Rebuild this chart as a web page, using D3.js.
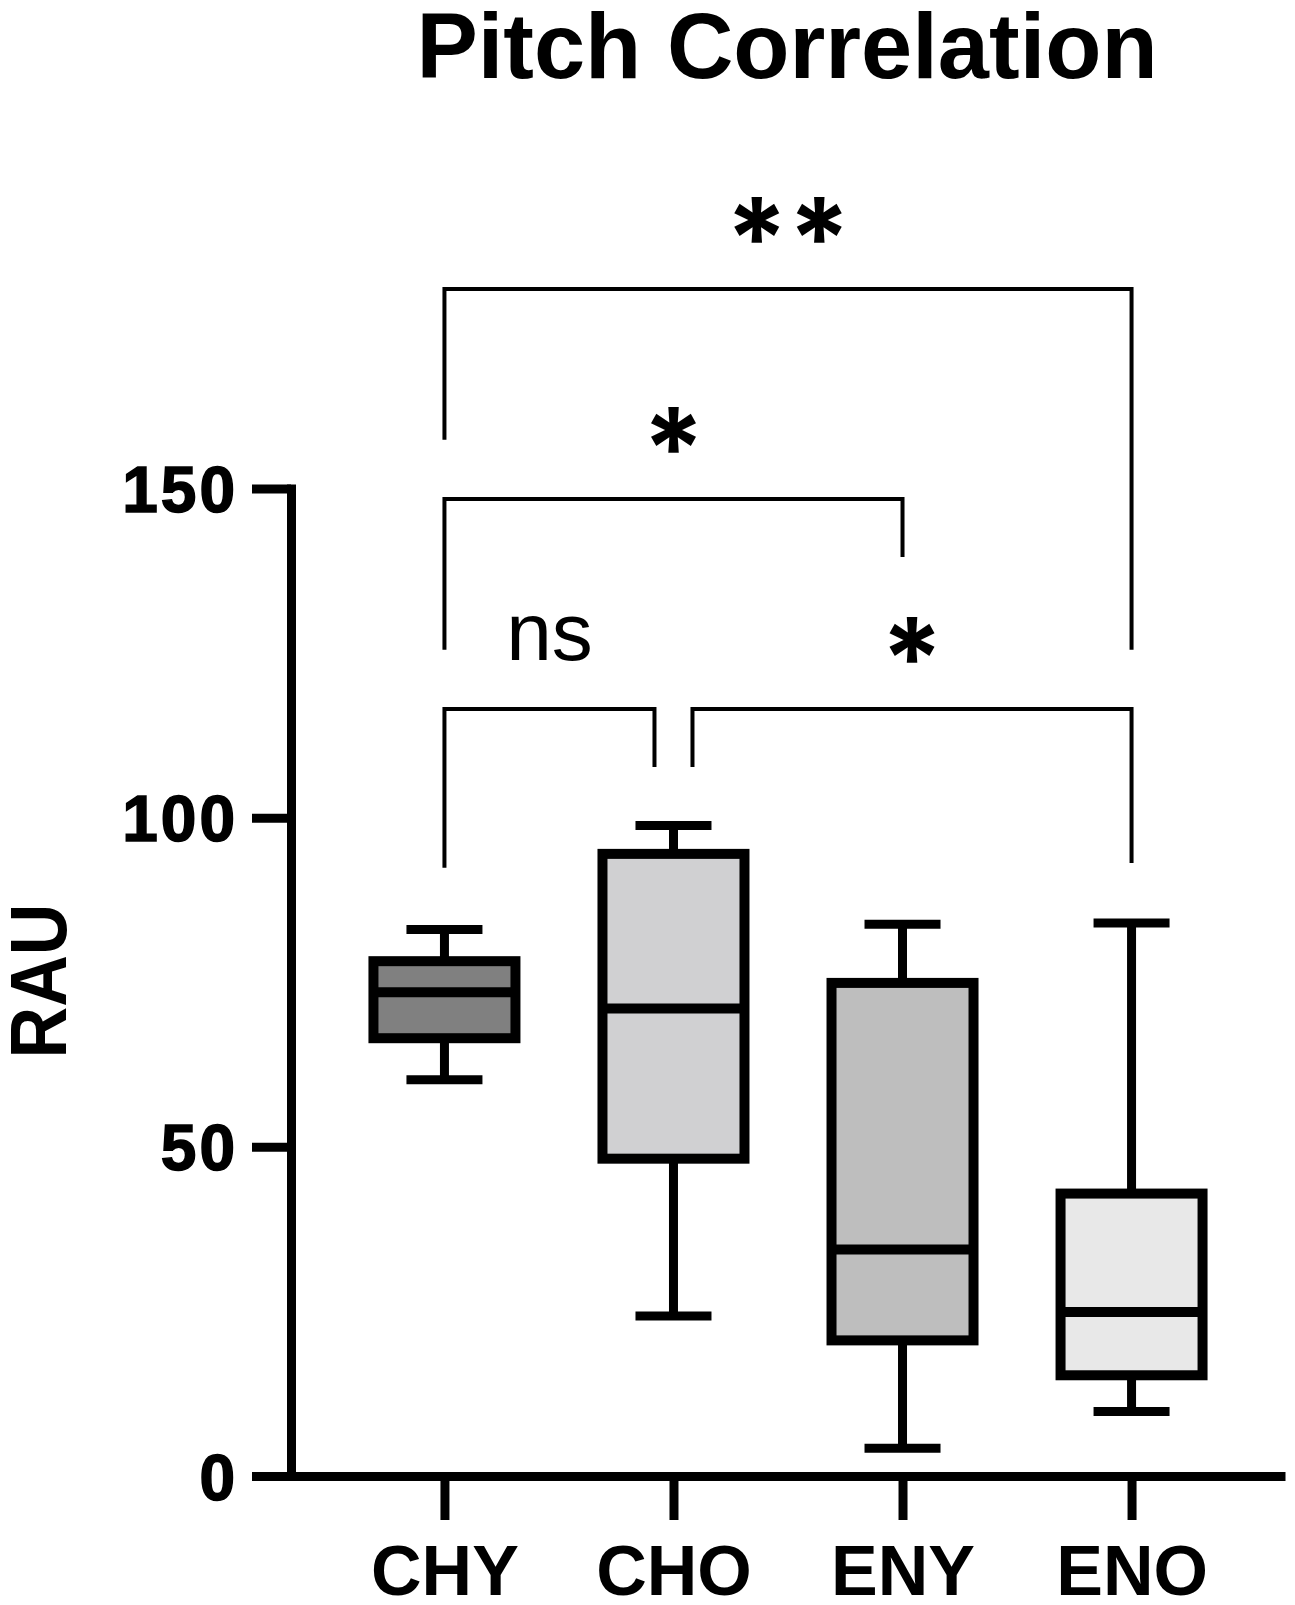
<!DOCTYPE html>
<html>
<head>
<meta charset="utf-8">
<script src="https://cdn.jsdelivr.net/npm/d3@7"></script>
<style>
  html, body { margin: 0; padding: 0; background: #fff; }
  svg { display: block; }
</style>
</head>
<body>
<script>
// ---- data ----
const categories = ["CHY", "CHO", "ENY", "ENO"];
const whiskerLow  = [60.2, 24.3, 4.2, 9.8];
const quartile1   = [66.5, 48.2, 20.6, 15.3];
const medians     = [73.5, 71.0, 34.4, 24.9];
const quartile3   = [78.2, 94.5, 74.9, 42.9];
const whiskerHigh = [83.0, 98.8, 83.8, 84.0];
const yTicks = [0, 50, 100, 150];
const compareFrom  = ["CHY", "CHO", "CHY", "CHY"];
const compareTo    = ["CHO", "ENO", "ENY", "ENO"];
const compareLabel = ["ns", "*", "*", "**"];

// ---- styling / layout ----
const fills = ["#808080", "#d0d0d2", "#bebebe", "#e8e8e8"];
const W = 1295, H = 1605;
// bracket layout in data units: bar level, left leg end, right leg end
const bracketLevel = [116.5, 116.5, 148.4, 180.3];
const bracketLegA  = [92.4, 107.7, 125.5, 157.4];
const bracketLegB  = [107.7, 93.1, 139.6, 125.5];
const bracketOffsetA = [0, 19, 0, 0];
const bracketOffsetB = [-19, 0, 0, 0];

const svg = d3.select("body").append("svg").attr("width", W).attr("height", H);

const y = d3.scaleLinear().domain([0, 150]).range([1476, 488.5]);
const x = d3.scalePoint().domain(categories).range([291, 1285]).padding(0.67);

// title
svg.append("text")
  .attr("x", 787).attr("y", 78)
  .attr("text-anchor", "middle")
  .style("font-family", "'Liberation Sans', Arial, sans-serif")
  .style("font-weight", "bold").style("font-size", "92px")
  .text("Pitch Correlation");

// y axis
const gy = svg.append("g").attr("transform", "translate(291,0)")
  .call(d3.axisLeft(y).tickValues(yTicks).tickSize(39).tickSizeOuter(0).tickPadding(14));
gy.select(".domain").attr("stroke", "#000").attr("stroke-width", 9).attr("stroke-linecap", "square");
gy.selectAll(".tick line").attr("stroke", "#000").attr("stroke-width", 9);
gy.selectAll(".tick text")
  .attr("fill", "#000").attr("dy", "0.36em")
  .style("font-family", "'Liberation Sans', Arial, sans-serif")
  .style("font-weight", "bold").style("font-size", "64px")
  .style("letter-spacing", "3px")
  .attr("stroke", "#000").attr("stroke-width", 1.5);

// x axis
const gx = svg.append("g").attr("transform", `translate(0,${y(0)})`)
  .call(d3.axisBottom(x).tickSize(44).tickSizeOuter(0).tickPadding(20));
gx.select(".domain").attr("stroke", "#000").attr("stroke-width", 9);
gx.selectAll(".tick line").attr("stroke", "#000").attr("stroke-width", 9);
gx.selectAll(".tick text")
  .attr("fill", "#000").attr("y", 119).attr("dy", 0)
  .style("font-family", "'Liberation Sans', Arial, sans-serif")
  .style("font-weight", "bold").style("font-size", "70px");

// y label
svg.append("text")
  .attr("transform", `translate(66,${981}) rotate(-90)`)
  .attr("text-anchor", "middle")
  .attr("textLength", 155).attr("lengthAdjust", "spacingAndGlyphs")
  .style("font-family", "'Liberation Sans', Arial, sans-serif")
  .style("font-weight", "bold").style("font-size", "80px")
  .text("RAU");

// boxes
const boxW = 142, capW = 76;
const boxes = svg.append("g").selectAll("g").data(categories).join("g");
boxes.each(function (c, i) {
  const g = d3.select(this);
  const cx = x(c);
  g.append("line").attr("x1", cx).attr("x2", cx)
    .attr("y1", y(whiskerHigh[i])).attr("y2", y(quartile3[i]))
    .attr("stroke", "#000").attr("stroke-width", 9);
  g.append("line").attr("x1", cx).attr("x2", cx)
    .attr("y1", y(quartile1[i])).attr("y2", y(whiskerLow[i]))
    .attr("stroke", "#000").attr("stroke-width", 9);
  g.append("line").attr("x1", cx - capW / 2).attr("x2", cx + capW / 2)
    .attr("y1", y(whiskerHigh[i])).attr("y2", y(whiskerHigh[i]))
    .attr("stroke", "#000").attr("stroke-width", 9);
  g.append("line").attr("x1", cx - capW / 2).attr("x2", cx + capW / 2)
    .attr("y1", y(whiskerLow[i])).attr("y2", y(whiskerLow[i]))
    .attr("stroke", "#000").attr("stroke-width", 9);
  g.append("rect").attr("x", cx - boxW / 2).attr("width", boxW)
    .attr("y", y(quartile3[i])).attr("height", y(quartile1[i]) - y(quartile3[i]))
    .attr("fill", fills[i]).attr("stroke", "#000").attr("stroke-width", 10);
  g.append("line").attr("x1", cx - boxW / 2).attr("x2", cx + boxW / 2)
    .attr("y1", y(medians[i])).attr("y2", y(medians[i]))
    .attr("stroke", "#000").attr("stroke-width", 10);
});

// significance brackets
const br = svg.append("g");
compareFrom.forEach((a, i) => {
  const xa = x(a) + bracketOffsetA[i], xb = x(compareTo[i]) + bracketOffsetB[i];
  const yl = y(bracketLevel[i]);
  br.append("path")
    .attr("d", `M${xa},${y(bracketLegA[i])}V${yl}H${xb}V${y(bracketLegB[i])}`)
    .attr("fill", "none").attr("stroke", "#000").attr("stroke-width", 4);
  const lab = compareLabel[i];
  const t = br.append("text")
    .attr("x", (xa + xb) / 2)
    .attr("text-anchor", "middle");
  if (lab === "ns") {
    t.attr("y", yl - 49)
      .style("font-family", "'Liberation Sans', Arial, sans-serif")
      .style("font-size", "82px").text(lab);
  } else {
    t.attr("y", yl - 11)
      .style("font-family", "Inter, 'Liberation Sans', sans-serif")
      .style("font-size", "112px").style("font-weight", "bold")
      .text(lab);
  }
});
</script>
</body>
</html>
